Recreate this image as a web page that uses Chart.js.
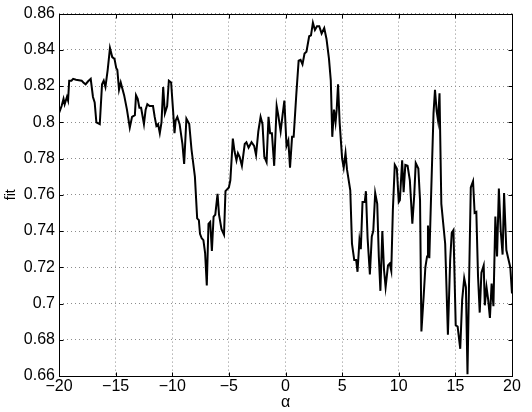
<!DOCTYPE html>
<html>
<head>
<meta charset="utf-8">
<script src="https://cdn.jsdelivr.net/npm/chart.js@4/dist/chart.umd.min.js"></script>
<style>
  html, body { margin: 0; padding: 0; background: #fff; }
  #wrap { width: 532px; height: 412px; }
</style>
</head>
<body>
<div id="wrap"><canvas id="grafico"></canvas></div>
<script>
// valores
const alpha = [
  -20, -19.77, -19.6, -19.5, -19.3, -19.2, -19.1, -18.9, -18.75, -18.5, -18, -17.85, -17.65, -17.45, -17.2, -17, -16.85,
  -16.7, -16.4, -16.2, -16.05, -15.9, -15.7, -15.5, -15.3, -15.1, -14.95, -14.85, -14.7, -14.55, -14.25, -14, -13.75,
  -13.55, -13.3, -13.2, -13.05, -12.9, -12.75, -12.5, -12.35, -12.2, -12, -11.7, -11.55, -11.4, -11.25, -11.1, -10.95,
  -10.8, -10.65, -10.45, -10.3, -10.1, -9.9, -9.8, -9.7, -9.55, -9.35, -9.1, -8.95, -8.75, -8.5, -8.3, -8, -7.8, -7.65,
  -7.55, -7.4, -7.25, -7.1, -6.95, -6.8, -6.65, -6.5, -6.35, -6.2, -6.0, -5.87, -5.65, -5.43, -5.3, -5.0, -4.87, -4.65,
  -4.5, -4.33, -4.2, -4.05, -3.85, -3.6, -3.45, -3.26, -3.0, -2.77, -2.6, -2.4, -2.2, -2.03, -1.87, -1.67, -1.5, -1.36,
  -1.2, -1.0, -0.78, -0.64, -0.43, -0.26, -0.1, 0.09, 0.25, 0.4, 0.58, 0.72, 0.96, 1.16, 1.33, 1.5, 1.68, 1.85, 2.09,
  2.25, 2.42, 2.6, 2.78, 2.98, 3.19, 3.42, 3.62, 3.84, 4.0, 4.13, 4.28, 4.42, 4.52, 4.64, 4.78, 5.0, 5.14, 5.3, 5.43,
  5.72, 5.87, 6.07, 6.24, 6.36, 6.53, 6.65, 6.8, 7.0, 7.1, 7.25, 7.45, 7.62, 7.75, 7.92, 8.1, 8.24, 8.38, 8.55, 8.7,
  8.84, 9.05, 9.2, 9.34, 9.48, 9.65, 9.83, 10.0, 10.1, 10.3, 10.43, 10.58, 10.78, 10.98, 11.2, 11.36, 11.5, 11.73,
  11.88, 12.0, 12.2, 12.35, 12.5, 12.58, 12.7, 12.87, 13.07, 13.2, 13.35, 13.47, 13.6, 13.76, 14.1, 14.34, 14.54,
  14.68, 14.83, 15.03, 15.2, 15.43, 15.6, 15.78, 15.93, 16.07, 16.2, 16.36, 16.56, 16.7, 16.85, 17.0, 17.15, 17.3,
  17.5, 17.6, 17.75, 17.9, 18.05, 18.2, 18.36, 18.53, 18.68, 18.84, 19.0, 19.17, 19.3, 19.5, 19.7, 19.85, 20
];
const fit = [
  0.805, 0.809, 0.813, 0.810, 0.814, 0.812, 0.823, 0.823, 0.824, 0.8235, 0.823, 0.822, 0.821, 0.8225, 0.824, 0.814, 0.811,
  0.800, 0.799, 0.821, 0.823, 0.8195, 0.829, 0.841, 0.836, 0.835, 0.830, 0.829, 0.818, 0.822, 0.815, 0.807, 0.797,
  0.803, 0.804, 0.815, 0.813, 0.808, 0.808, 0.799, 0.807, 0.810, 0.809, 0.809, 0.803, 0.798, 0.799, 0.794, 0.800,
  0.8195, 0.805, 0.809, 0.823, 0.822, 0.804, 0.794, 0.801, 0.803, 0.799, 0.788, 0.777, 0.802, 0.799, 0.785, 0.770, 0.747, 0.746,
  0.7385, 0.736, 0.735, 0.728, 0.710, 0.744, 0.745, 0.729, 0.748, 0.749, 0.7605, 0.749, 0.741, 0.738, 0.762, 0.764, 0.768, 0.791,
  0.784, 0.779, 0.783, 0.781, 0.776, 0.788, 0.789, 0.786, 0.789, 0.787, 0.782, 0.795, 0.803, 0.799, 0.781, 0.778, 0.803, 0.794,
  0.794, 0.776, 0.809, 0.804, 0.795, 0.804, 0.812, 0.787, 0.790, 0.775, 0.792, 0.792, 0.816, 0.834, 0.8345, 0.832, 0.838, 0.839, 0.8475,
  0.848, 0.855, 0.851, 0.853, 0.853, 0.849, 0.852, 0.846, 0.835, 0.823, 0.792, 0.807, 0.800, 0.807, 0.821, 0.800, 0.780, 0.775, 0.783, 0.774,
  0.7625, 0.733, 0.724, 0.724, 0.7175, 0.735, 0.730, 0.756, 0.756, 0.762, 0.736, 0.716, 0.737, 0.740, 0.761, 0.755, 0.726, 0.707, 0.740, 0.7185,
  0.709, 0.721, 0.722, 0.718, 0.7515, 0.7765, 0.7745, 0.756, 0.757, 0.779, 0.7615, 0.7765, 0.776, 0.768, 0.744, 0.759, 0.7775, 0.7745,
  0.757, 0.6846, 0.704, 0.720, 0.726, 0.743, 0.725, 0.7625, 0.805, 0.818, 0.806, 0.801, 0.816, 0.755, 0.733, 0.6828, 0.724,
  0.739, 0.7405, 0.688, 0.6873, 0.675, 0.702, 0.714, 0.709, 0.661, 0.709, 0.764, 0.7675, 0.750, 0.7505, 0.715, 0.695, 0.717,
  0.721, 0.699, 0.709, 0.702, 0.692, 0.711, 0.6985, 0.748, 0.726, 0.7635, 0.7405, 0.727, 0.761, 0.7295, 0.724, 0.720, 0.7055
];
const xTicks = [-20, -15, -10, -5, 0, 5, 10, 15, 20];
const yTicks = [0.66, 0.68, 0.7, 0.72, 0.74, 0.76, 0.78, 0.8, 0.82, 0.84, 0.86];

const fonte = { family: 'Helvetica, "Liberation Sans", Arial, sans-serif', size: 16 };
const grade = {
  color: '#8c8c8c',
  lineWidth: 1,
  drawTicks: false
};
const borda = { display: false, dash: [1, 3] };

// moldura preta e marcas internas de escala
const moldura = {
  id: 'moldura',
  afterDatasetsDraw(chart) {
    const { ctx, chartArea: a, scales } = chart;
    const L = Math.round(a.left) + 0.5, T = Math.round(a.top) + 0.5;
    const R = Math.round(a.right) + 0.5, B = Math.round(a.bottom) + 0.5;
    ctx.save();
    ctx.strokeStyle = '#000';
    ctx.lineWidth = 1;
    ctx.beginPath();
    xTicks.forEach(v => {
      const px = Math.round(scales.x.getPixelForValue(v)) + 0.5;
      ctx.moveTo(px, B); ctx.lineTo(px, B - 4);
      ctx.moveTo(px, T); ctx.lineTo(px, T + 4);
    });
    yTicks.forEach(v => {
      const py = Math.round(scales.y.getPixelForValue(v)) + 0.5;
      ctx.moveTo(L, py); ctx.lineTo(L + 4, py);
      ctx.moveTo(R, py); ctx.lineTo(R - 4, py);
    });
    ctx.stroke();
    ctx.strokeRect(L, T, R - L, B - T);
    ctx.restore();
  }
};

new Chart(document.getElementById('grafico'), {
  type: 'line',
  data: {
    datasets: [{
      data: alpha.map((a, i) => ({ x: a, y: fit[i] })),
      borderColor: '#000',
      borderWidth: 2,
      pointRadius: 0,
      tension: 0,
      fill: false
    }]
  },
  options: {
    responsive: true,
    maintainAspectRatio: false,
    animation: false,
    layout: { padding: { top: 13, right: 20, left: 3, bottom: 0 } },
    plugins: { legend: { display: false }, tooltip: { enabled: false } },
    scales: {
      x: {
        type: 'linear',
        min: -20, max: 20,
        afterBuildTicks: s => { s.ticks = xTicks.map(v => ({ value: v })); },
        afterFit: s => { s.height = 36; },
        grid: grade,
        border: borda,
        ticks: {
          color: '#000', font: fonte, padding: 1, maxRotation: 0,
          callback: v => String(v).replace('-', '\u2212')
        },
        title: { display: true, text: 'α', color: '#000', font: fonte, padding: { top: -4, bottom: 0 } }
      },
      y: {
        min: 0.66, max: 0.86,
        afterBuildTicks: s => { s.ticks = yTicks.map(v => ({ value: v })); },
        afterFit: s => { s.width = 56; },
        grid: grade,
        border: borda,
        ticks: {
          color: '#000', font: fonte, padding: 4,
          callback: v => String(Math.round(v * 100) / 100)
        },
        title: { display: true, text: 'fit', color: '#000', font: { ...fonte, size: 14 }, padding: { top: 0, bottom: 0 } }
      }
    }
  },
  plugins: [moldura]
});
</script>
</body>
</html>
